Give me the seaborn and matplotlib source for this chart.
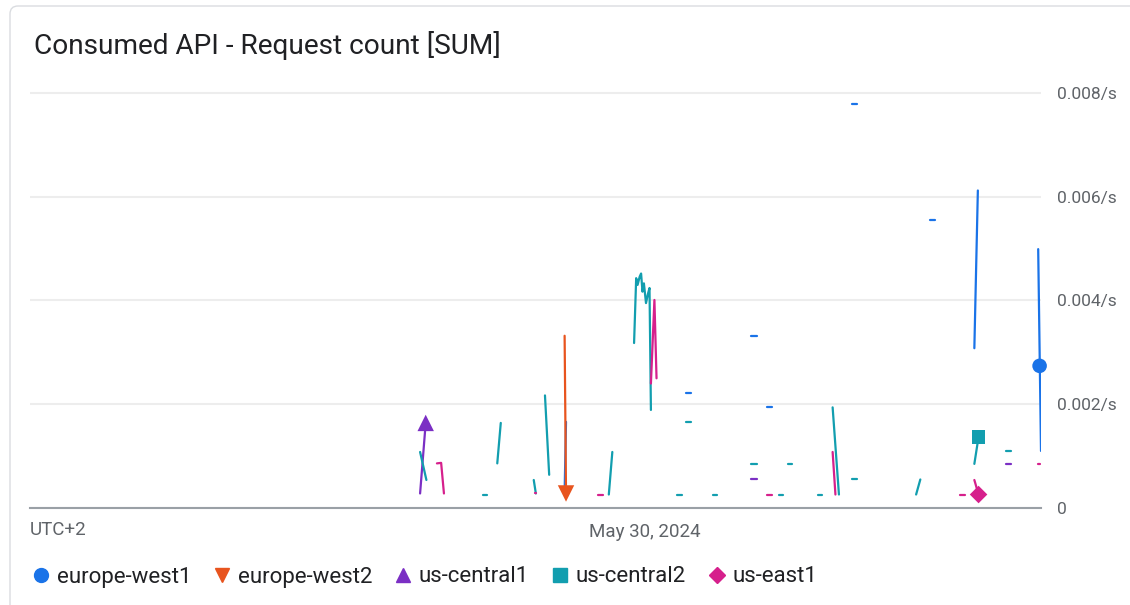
import matplotlib
matplotlib.use("Agg")
import matplotlib.pyplot as plt
import seaborn as sns
import pandas as pd
from matplotlib.lines import Line2D
from matplotlib.patches import FancyBboxPatch

TITLE = "Consumed API - Request count [SUM]"
REGIONS = ["europe-west1", "europe-west2", "us-central1", "us-central2", "us-east1"]
COLORS = ["#1a73e8", "#e8541e", "#7b2fc4", "#129eaf", "#d6208c"]
MARKERS = ["o", "v", "^", "s", "D"]
MARKER_SIZES = [110, 140, 140, 90, 80]
Y_TICKS = [0, 0.002, 0.004, 0.006, 0.008]
Y_TICK_LABELS = ["0", "0.002/s", "0.004/s", "0.006/s", "0.008/s"]
X_TICK = "2024-05-30 00:00"
X_TICK_LABEL = "May 30, 2024"
TZ_LABEL = "UTC+2"
WINDOW = ("2024-05-29 09:23", "2024-05-30 09:24")

# ---- series: segments of (time, value); gaps between segments ----
EUROPE_WEST1_T = [
    ["05-29 22:05", "05-29 22:07"],
    ["05-30 00:58", "05-30 01:05"],
    ["05-30 02:31", "05-30 02:39"],
    ["05-30 02:54", "05-30 03:01"],
    ["05-30 04:55", "05-30 05:02"],
    ["05-30 06:46", "05-30 06:53"],
    ["05-30 07:49", "05-30 07:54"],
    ["05-30 09:20", "05-30 09:24"],
]
EUROPE_WEST1_V = [
    [0.00030, 0.00166],
    [0.00221, 0.00221],
    [0.00332, 0.00332],
    [0.00195, 0.00195],
    [0.00779, 0.00779],
    [0.00555, 0.00555],
    [0.00308, 0.00612],
    [0.00499, 0.00110],
]

EUROPE_WEST2_T = [["05-29 22:05", "05-29 22:07"]]
EUROPE_WEST2_V = [[0.00332, 0.00028]]

US_CENTRAL1_T = [
    ["05-29 18:39", "05-29 18:47"],
    ["05-30 02:31", "05-30 02:39"],
    ["05-30 08:34", "05-30 08:41"],
]
US_CENTRAL1_V = [
    [0.00028, 0.00164],
    [0.00055, 0.00055],
    [0.00084, 0.00084],
]

US_CENTRAL2_T = [
    ["05-29 18:39", "05-29 18:48"],
    ["05-29 20:09", "05-29 20:14"],
    ["05-29 20:29", "05-29 20:34"],
    ["05-29 21:21", "05-29 21:24"],
    ["05-29 21:37", "05-29 21:43"],
    ["05-29 23:08", "05-29 23:13"],
    ["05-29 23:44", "05-29 23:47", "05-29 23:49", "05-29 23:52", "05-29 23:54",
     "05-29 23:56", "05-29 23:58", "05-30 00:01", "05-30 00:04", "05-30 00:06",
     "05-30 00:08"],
    ["05-30 00:45", "05-30 00:52"],
    ["05-30 00:58", "05-30 01:05"],
    ["05-30 01:37", "05-30 01:42"],
    ["05-30 02:31", "05-30 02:39"],
    ["05-30 03:11", "05-30 03:16"],
    ["05-30 03:24", "05-30 03:29"],
    ["05-30 04:06", "05-30 04:12"],
    ["05-30 04:27", "05-30 04:36"],
    ["05-30 04:55", "05-30 05:02"],
    ["05-30 06:26", "05-30 06:32"],
    ["05-30 07:49", "05-30 07:55"],
    ["05-30 08:34", "05-30 08:41"],
]
US_CENTRAL2_V = [
    [0.00108, 0.00054],
    [0.00026, 0.00026],
    [0.00086, 0.00164],
    [0.00054, 0.00028],
    [0.00217, 0.00064],
    [0.00026, 0.00108],
    [0.00318, 0.00443, 0.00430, 0.00446, 0.00452, 0.00417, 0.00433, 0.00395,
     0.00414, 0.00424, 0.00189],
    [0.00026, 0.00026],
    [0.00166, 0.00166],
    [0.00026, 0.00026],
    [0.00084, 0.00084],
    [0.00026, 0.00026],
    [0.00084, 0.00084],
    [0.00026, 0.00026],
    [0.00194, 0.00026],
    [0.00055, 0.00055],
    [0.00026, 0.00055],
    [0.00085, 0.00137],
    [0.00109, 0.00109],
]

US_EAST1_T = [
    ["05-29 19:03", "05-29 19:09", "05-29 19:13"],
    ["05-29 21:23", "05-29 21:24"],
    ["05-29 22:53", "05-29 23:00"],
    ["05-30 00:08", "05-30 00:13", "05-30 00:16"],
    ["05-30 02:54", "05-30 03:01"],
    ["05-30 04:27", "05-30 04:31"],
    ["05-30 07:29", "05-30 07:35"],
    ["05-30 07:49", "05-30 07:55"],
    ["05-30 09:20", "05-30 09:22"],
]
US_EAST1_V = [
    [0.00086, 0.00087, 0.00028],
    [0.00028, 0.00028],
    [0.00026, 0.00026],
    [0.00240, 0.00401, 0.00250],
    [0.00026, 0.00026],
    [0.00108, 0.00026],
    [0.00026, 0.00026],
    [0.00054, 0.00026],
    [0.00084, 0.00084],
]

# highlighted points (one per series)
HIGHLIGHT_T = ["05-30 09:22", "05-29 22:07", "05-29 18:47", "05-30 07:55", "05-30 07:55"]
HIGHLIGHT_V = [0.00274, 0.00028, 0.00164, 0.00137, 0.00026]

SERIES_T = [EUROPE_WEST1_T, EUROPE_WEST2_T, US_CENTRAL1_T, US_CENTRAL2_T, US_EAST1_T]
SERIES_V = [EUROPE_WEST1_V, EUROPE_WEST2_V, US_CENTRAL1_V, US_CENTRAL2_V, US_EAST1_V]

rows = []
for region, segs_t, segs_v in zip(REGIONS, SERIES_T, SERIES_V):
    for i, (ts, vs) in enumerate(zip(segs_t, segs_v)):
        for t, v in zip(ts, vs):
            rows.append({"region": region, "seg": i,
                         "time": pd.Timestamp("2024-" + t), "value": v})
df = pd.DataFrame(rows)

hl = pd.DataFrame({"region": REGIONS,
                   "time": [pd.Timestamp("2024-" + t) for t in HIGHLIGHT_T],
                   "value": HIGHLIGHT_V})

sns.set_style("white")
plt.rcParams["font.family"] = ["Roboto", "DejaVu Sans"]

W, H = 1130, 605
fig = plt.figure(figsize=(W / 100, H / 100), dpi=100)
ax = fig.add_axes([30 / W, (H - 508) / H, (1041 - 30) / W, (508 - 80) / H])

palette = dict(zip(REGIONS, COLORS))
sns.lineplot(data=df, x="time", y="value", hue="region", hue_order=REGIONS,
             units="seg", estimator=None, sort=False, palette=palette,
             linewidth=1.6, legend=False, ax=ax)
for ln in ax.lines:
    ln.set_solid_capstyle("round")
    ln.set_solid_joinstyle("round")

sns.scatterplot(data=hl, x="time", y="value", hue="region", hue_order=REGIONS,
                palette=palette, style="region", markers=dict(zip(REGIONS, MARKERS)),
                size="region", sizes=dict(zip(REGIONS, MARKER_SIZES)),
                linewidth=0, legend=False, ax=ax, zorder=5)
for coll in ax.collections:
    coll.set_clip_on(False)

ax.set_xlim(pd.Timestamp(WINDOW[0]), pd.Timestamp(WINDOW[1]))
ax.set_ylim(0, 0.00825)
ax.set_xlabel("")
ax.set_ylabel("")

for s in ["top", "left", "right"]:
    ax.spines[s].set_visible(False)
ax.spines["bottom"].set_color("#9aa0a6")
ax.spines["bottom"].set_linewidth(1.5)

ax.yaxis.tick_right()
ax.set_yticks(Y_TICKS)
ax.set_yticklabels(Y_TICK_LABELS)
ax.tick_params(axis="y", length=0, pad=11.5, labelsize=12.5, labelcolor="#5f6368")
ax.yaxis.grid(True, color="#ededed", linewidth=1.5)
ax.xaxis.grid(False)
ax.set_axisbelow(True)

ax.set_xticks([pd.Timestamp(X_TICK)])
ax.set_xticklabels([X_TICK_LABEL])
ax.tick_params(axis="x", length=5, width=1, color="#9aa0a6", pad=6,
               labelsize=13.5, labelcolor="#5f6368")

fig.text(30 / W, 1 - 530 / H, TZ_LABEL, ha="left", va="center",
         fontsize=13.5, color="#5f6368")
fig.text(34 / W, 1 - 54 / H, TITLE, ha="left", va="baseline",
         fontsize=20.2, color="#202124")

handles = [Line2D([], [], marker=m, color=c, linestyle="none",
                  markersize=10 if m != "D" else 8.5)
           for m, c in zip(MARKERS, COLORS)]
fig.legend(handles, REGIONS, loc="center left", bbox_to_anchor=(30 / W, 1 - 577 / H),
           ncol=5, frameon=False, fontsize=16, handlelength=1.0, handletextpad=0.2,
           columnspacing=0.9, borderpad=0, borderaxespad=0, labelcolor="#202124")

card = FancyBboxPatch((0.10, -0.3), 11.6, 6.29,
                      boxstyle="round,pad=0,rounding_size=0.08",
                      transform=fig.dpi_scale_trans, facecolor="none",
                      edgecolor="#dadce0", linewidth=1.0)
fig.add_artist(card)

fig.savefig("out.png", dpi=100)
